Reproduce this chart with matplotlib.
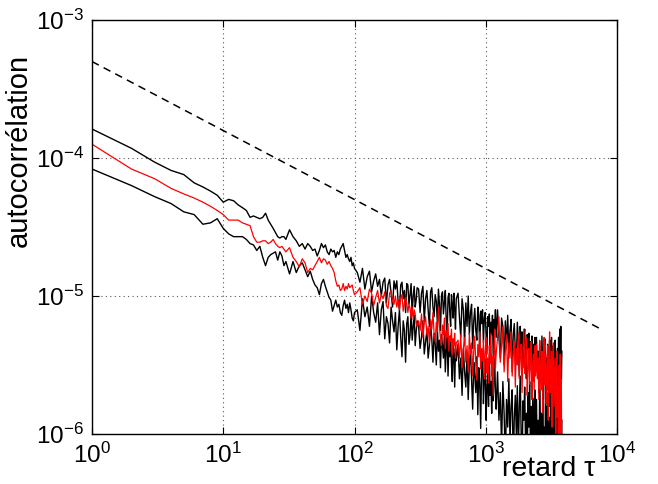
import numpy as np
import matplotlib
matplotlib.use("Agg")
import matplotlib.pyplot as plt
from matplotlib.ticker import NullLocator

# ---- data (lag tau, log10 of autocorrelation) ----
lags = [1, 2, 3, 4, 5, 6, 7, 8, 9, 10, 11, 12, 13, 14, 15, 16, 17, 18, 19, 20,
        21, 22, 23, 24, 25, 26, 27, 28, 29, 30,
        32, 34, 36, 38, 40, 42, 44, 46, 48, 50, 52, 54, 56, 58, 60, 62, 64, 66, 68, 70,
        72, 74, 76, 78, 80, 82, 84, 86, 88, 90, 92, 94, 96, 98, 100,
        105, 110, 115, 120, 125, 130, 135, 140, 145, 150, 155, 160, 165, 170, 175, 180,
        185, 190, 195, 200, 205, 210, 215, 220, 225, 230, 235, 240, 245, 250, 255, 260,
        265, 270, 275, 280, 285, 290, 295, 300,
        308, 316, 324, 332, 340, 348, 356, 364, 372, 380, 388, 396, 404, 412, 420, 428,
        436, 444, 452, 460, 468, 476, 484, 492, 500, 508, 516, 524, 532, 540, 548, 556,
        564, 572, 580, 588, 596,
        615, 630, 645, 660, 675, 690, 705, 720, 735, 750, 765, 780, 795, 810, 825, 840,
        855, 870, 885, 900, 915, 930, 945, 960, 975, 990, 1005, 1020, 1035, 1050, 1065,
        1080, 1095, 1110, 1125, 1140, 1155, 1170, 1185, 1200,
        1230, 1260, 1290, 1320, 1350, 1380, 1410, 1440, 1470, 1500, 1530, 1560, 1590,
        1620, 1650, 1680, 1710, 1740, 1770, 1800, 1830, 1860, 1890, 1920, 1950, 1980,
        2010, 2040, 2070, 2100, 2130, 2160, 2190, 2220, 2250, 2280, 2310, 2340, 2370, 2400,
        2435, 2470, 2505, 2540, 2575, 2610, 2645, 2680, 2715, 2750, 2785, 2820, 2855,
        2890, 2925, 2960, 2995, 3030, 3065, 3100, 3135, 3170, 3205, 3240, 3275, 3310,
        3345, 3380, 3415, 3450, 3485, 3520, 3555, 3590, 3625, 3660, 3695, 3730, 3765, 3800]

upper_log = [-3.79, -3.93, -4.03, -4.09, -4.12, -4.18, -4.21, -4.24, -4.27, -4.32,
             -4.30, -4.31, -4.34, -4.36, -4.38, -4.43, -4.42, -4.43, -4.44, -4.43,
             -4.40, -4.45, -4.48, -4.51, -4.54, -4.57, -4.58, -4.57, -4.57, -4.59,
             -4.52, -4.57, -4.60, -4.64, -4.62, -4.66, -4.62, -4.64, -4.67, -4.66,
             -4.71, -4.67, -4.62, -4.65, -4.63, -4.68, -4.70, -4.66, -4.68, -4.67,
             -4.72, -4.68, -4.70, -4.66, -4.64, -4.62, -4.67, -4.72, -4.70, -4.73,
             -4.75, -4.72, -4.78, -4.76, -4.80,
             -4.83, -4.90, -4.80, -4.95, -4.86, -4.82, -4.97, -4.89, -4.84, -4.93,
             -4.88, -5.00, -4.90, -4.87, -5.05, -4.92, -4.88, -4.98, -5.08, -4.89,
             -4.95, -4.89, -5.04, -5.10, -4.92, -4.90, -5.02, -4.96, -5.12, -4.91,
             -4.92, -5.06, -4.99, -4.91, -5.14, -5.00, -4.93, -5.08, -5.03, -4.94,
             -4.95, -5.12, -4.98, -4.93, -5.18, -5.02, -4.96, -5.10, -5.22, -4.97,
             -4.94, -5.08, -5.15, -4.99, -5.04, -5.20, -4.95, -5.06, -5.25, -5.00,
             -4.97, -5.13, -5.05, -4.96, -5.18, -5.28, -5.01, -4.98, -5.12, -5.22,
             -4.99, -5.06, -5.16, -4.98, -5.10, -5.24, -5.02,
             -4.98, -5.15, -5.30, -5.02, -5.10, -5.35, -5.05, -5.22, -5.00, -5.28,
             -5.12, -5.06, -5.38, -5.18, -5.09, -5.25, -5.32, -5.08, -5.14, -5.40,
             -5.11, -5.20, -5.10, -5.34, -5.16, -5.12, -5.27, -5.42, -5.15, -5.22,
             -5.13, -5.36, -5.19, -5.28, -5.14, -5.45, -5.17, -5.24, -5.10, -5.30,
             -5.10, -5.30, -5.45, -5.16, -5.22, -5.50, -5.18, -5.35, -5.14, -5.42,
             -5.25, -5.17, -5.55, -5.28, -5.20, -5.40, -5.48, -5.19, -5.32, -5.58,
             -5.22, -5.36, -5.26, -5.52, -5.30, -5.24, -5.45, -5.60, -5.28, -5.38,
             -5.27, -5.55, -5.33, -5.44, -5.29, -5.62, -5.35, -5.48, -5.30, -5.50,
             -5.30, -5.55, -5.40, -5.70, -5.33, -5.48, -5.62, -5.29, -5.52, -5.75,
             -5.38, -5.31, -5.60, -5.45, -5.68, -5.35, -5.50, -5.80, -5.32, -5.58,
             -5.42, -5.30, -5.66, -5.47, -5.36, -5.72, -5.55, -5.32, -5.62, -5.44,
             -5.85, -5.38, -5.56, -5.30, -5.70, -5.24, -5.50, -5.22, -5.65, -5.40]

lower_log = [-4.08, -4.20, -4.28, -4.33, -4.39, -4.41, -4.48, -4.47, -4.44, -4.51,
             -4.55, -4.57, -4.57, -4.57, -4.59, -4.62, -4.63, -4.67, -4.64, -4.72,
             -4.78, -4.72, -4.70, -4.69, -4.68, -4.74, -4.68, -4.71, -4.78, -4.75,
             -4.84, -4.75, -4.83, -4.78, -4.76, -4.81, -4.86, -4.82, -4.88, -4.92,
             -4.94, -4.99, -4.91, -4.88, -4.93, -4.97, -5.01, -5.03, -5.11, -5.07,
             -5.03, -5.08, -5.06, -5.12, -5.14, -5.07, -5.03, -5.09, -5.06, -5.12,
             -5.05, -5.10, -5.16, -5.18, -5.12,
             -5.10, -5.25, -5.02, -5.15, -5.08, -5.22, -5.00, -5.12, -5.19, -5.05,
             -5.28, -5.10, -5.04, -5.31, -5.15, -5.20, -5.34, -5.08, -5.18, -5.26,
             -5.12, -5.39, -5.22, -5.10, -5.30, -5.44, -5.18, -5.25, -5.48, -5.20,
             -5.15, -5.35, -5.28, -5.12, -5.32, -5.22, -5.14, -5.36, -5.26, -5.18,
             -5.22, -5.38, -5.30, -5.18, -5.42, -5.33, -5.25, -5.45, -5.36, -5.20,
             -5.31, -5.48, -5.27, -5.35, -5.50, -5.24, -5.40, -5.32, -5.52, -5.28,
             -5.36, -5.45, -5.26, -5.55, -5.38, -5.30, -5.58, -5.34, -5.44, -5.29,
             -5.50, -5.62, -5.35, -5.42, -5.66, -5.38, -5.47,
             -5.35, -5.60, -5.45, -5.72, -5.38, -5.55, -5.66, -5.42, -5.75, -5.50,
             -5.40, -5.62, -5.82, -5.48, -5.58, -5.70, -5.44, -5.86, -5.52, -5.64,
             -5.96, -5.50, -5.40, -5.78, -5.60, -5.46, -5.90, -5.68, -5.55, -5.80,
             -5.42, -5.72, -5.62, -5.85, -5.50, -5.76, -5.58, -5.45, -5.70, -5.82,
             -5.55, -5.90, -5.70, -6.10, -5.62, -5.85, -6.20, -5.75, -5.95, -5.60,
             -6.05, -5.80, -5.68, -6.25, -5.88, -5.72, -6.00, -5.65, -6.15, -5.82,
             -5.58, -5.98, -6.30, -5.76, -5.90, -5.66, -6.08, -5.85, -6.20, -5.70,
             -5.95, -5.62, -6.12, -5.80, -6.35, -5.74, -5.92, -6.05, -5.68, -6.18,
             -5.75, -6.20, -5.90, -6.40, -5.68, -6.05, -5.85, -6.30, -5.72, -6.10,
             -5.95, -6.35, -5.60, -6.00, -5.80, -6.25, -5.70, -6.15, -5.88, -6.40,
             -5.65, -5.98, -6.30, -5.78, -6.12, -5.58, -6.05, -5.90, -6.35, -5.74,
             -6.20, -5.85, -6.45, -5.66, -6.10, -5.92, -6.30, -5.78, -6.50, -5.90]

mean_log = [-3.90, -4.08, -4.15, -4.22, -4.26, -4.29, -4.32, -4.35, -4.38, -4.41,
            -4.45, -4.45, -4.45, -4.47, -4.48, -4.49, -4.57, -4.61, -4.61, -4.60,
            -4.60, -4.62, -4.61, -4.59, -4.62, -4.64, -4.65, -4.64, -4.66, -4.68,
            -4.65, -4.72, -4.75, -4.79, -4.73, -4.76, -4.83, -4.80, -4.81, -4.78,
            -4.75, -4.72, -4.76, -4.73, -4.74, -4.77, -4.75, -4.78, -4.80, -4.83,
            -4.89, -4.93, -4.92, -4.96, -4.95, -4.91, -4.96, -4.93, -4.95, -4.91,
            -4.94, -4.93, -4.92, -4.96, -4.99,
            -4.97, -4.94, -5.06, -5.00, -5.04, -4.95, -4.98, -5.07, -5.01, -4.96,
            -5.05, -4.99, -5.02, -4.97, -5.07, -5.09, -4.98, -4.96, -5.04, -5.06,
            -5.00, -5.08, -5.03, -5.10, -5.02, -4.99, -5.11, -5.05, -5.01, -5.05,
            -5.12, -5.06, -5.09, -5.16, -5.08, -5.17, -5.10, -5.13, -5.20, -5.22,
            -5.18, -5.25, -5.13, -5.30, -5.20, -5.15, -5.28, -5.22, -5.34, -5.17,
            -5.24, -5.12, -5.27, -5.33, -5.19, -5.26, -5.08, -5.22, -5.31, -5.36,
            -5.21, -5.28, -5.16, -5.38, -5.25, -5.30, -5.20, -5.40, -5.29, -5.33,
            -5.24, -5.42, -5.31, -5.36, -5.27, -5.45, -5.34,
            -5.32, -5.45, -5.28, -5.52, -5.38, -5.30, -5.48, -5.36, -5.55, -5.27,
            -5.42, -5.34, -5.58, -5.40, -5.29, -5.50, -5.61, -5.35, -5.44, -5.26,
            -5.53, -5.38, -5.47, -5.32, -5.60, -5.41, -5.30, -5.56, -5.45, -5.63,
            -5.36, -5.49, -5.27, -5.58, -5.44, -5.72, -5.38, -5.24, -5.52, -5.42,
            -5.30, -5.15, -5.48, -5.36, -5.22, -5.55, -5.40, -5.28, -5.62, -5.34,
            -5.45, -5.26, -5.58, -5.42, -5.33, -5.66, -5.38, -5.50, -5.27, -5.60,
            -5.44, -5.35, -5.70, -5.40, -5.24, -5.56, -5.47, -5.30, -5.72, -5.52,
            -5.38, -5.64, -5.46, -5.33, -5.75, -5.50, -5.42, -5.68, -5.36, -5.58,
            -5.35, -5.60, -5.45, -5.75, -5.32, -5.52, -5.68, -5.40, -5.85, -5.50,
            -5.30, -5.64, -5.42, -5.78, -5.55, -5.36, -5.90, -5.48, -5.26, -5.70,
            -5.58, -5.40, -5.95, -5.52, -5.34, -5.80, -5.62, -5.45, -6.05, -5.55,
            -5.40, -5.88, -5.65, -6.15, -5.50, -6.30, -5.42, -6.20, -5.60, -6.40]

ref_lag = [1, 7500]
ref_val = [5.0e-4, 5.77e-6]

x_ticks = [1, 10, 100, 1000, 10000]
y_ticks = [1e-6, 1e-5, 1e-4, 1e-3]

plt.rcParams['font.family'] = ['Liberation Sans', 'DejaVu Sans']
plt.rcParams['mathtext.fontset'] = 'custom'
plt.rcParams['mathtext.rm'] = 'Liberation Sans'
plt.rcParams['mathtext.it'] = 'Liberation Sans:italic'

fig = plt.figure(figsize=(6.58, 4.84), dpi=100)
ax = fig.add_axes([92/658, 1 - 434/484, (617 - 92)/658, (434 - 20)/484])

x = np.array(lags, dtype=float)
ax.plot(x, 10.0 ** np.array(upper_log), color='black', lw=1.0)
ax.plot(x, 10.0 ** np.array(lower_log), color='black', lw=1.0)
ax.plot(x, 10.0 ** np.array(mean_log), color='red', lw=0.9)
ax.plot(ref_lag, ref_val, color='black', lw=1.1, linestyle=(0, (5, 3.6)))

ax.set_xscale('log')
ax.set_yscale('log')
ax.set_xlim(1, 1e4)
ax.set_ylim(1e-6, 1e-3)
ax.set_xticks(x_ticks)
ax.set_yticks(y_ticks)
ax.xaxis.set_minor_locator(NullLocator())
ax.yaxis.set_minor_locator(NullLocator())
ax.grid(True, which='major', color='0.35', linestyle=(0, (1, 3)), lw=0.8)
ax.tick_params(which='both', direction='in', top=True, right=True, length=5,
               width=0.8, labelsize=17.5, pad=6)
for s in ax.spines.values():
    s.set_linewidth(1.0)

ax.set_ylabel('autocorrélation', fontsize=21)
ax.yaxis.set_label_coords(-0.112, (434 - 150) / 414)
fig.text(549/658, 1 - 476/484, 'retard \u03c4', fontsize=20.5, ha='center',
         va='baseline')

fig.savefig('out.png', dpi=100)
